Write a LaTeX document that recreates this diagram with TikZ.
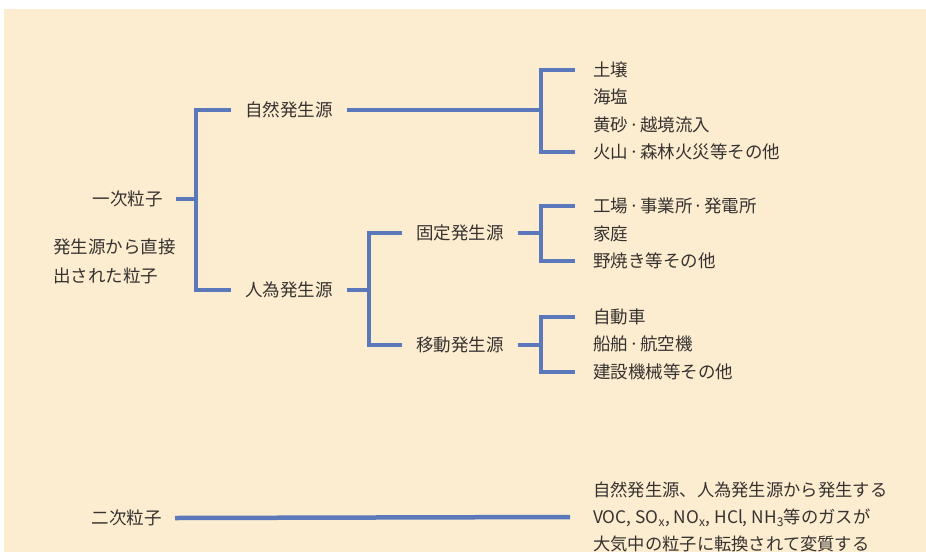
\documentclass[tikz,border=0pt]{standalone}
\usepackage{fontspec}
\setmainfont{Noto Sans CJK JP}
\definecolor{bgbeige}{HTML}{FDEDD0}
\definecolor{lineblue}{HTML}{5A78BA}
\definecolor{txtgray}{HTML}{363230}
\newcommand{\mdot}{\kern1pt·\kern1pt}
\begin{document}
\begin{tikzpicture}[x=1pt,y=-1pt,
  conn/.style={draw=lineblue,line width=4.5pt,line join=miter,line cap=butt},
  lbl/.style={text=txtgray,font=\fontsize{17.5}{20}\selectfont,inner ysep=1pt},
  midlbl/.style={lbl,anchor=west,inner xsep=14pt},
  leaf/.style={lbl,anchor=west,inner xsep=18pt},
  rootlbl/.style={lbl,anchor=east,inner xsep=13pt}]
\useasboundingbox (0,0) rectangle (926,552);
\clip (0,0) rectangle (926,552);
\fill[bgbeige] (4,9) rectangle (926,552);

% roots
\node[rootlbl] (ichiji) at (176,199) {一次粒子};
\node[lbl,anchor=west,inner sep=0pt,align=left,font=\fontsize{17.5}{29}\selectfont] (desc) at (53,261) {発生源から直接\\出された粒子};
\node[rootlbl] (niji) at (175,518) {二次粒子};

% level 2
\node[midlbl] (shizen) at (231,110) {自然発生源};
\node[midlbl] (jini) at (231,290) {人為発生源};

% level 3
\node[midlbl] (kotei) at (402,233) {固定発生源};
\node[midlbl] (ido) at (402,345) {移動発生源};

% leaves
\node[leaf] (s1) at (575,70) {土壌};
\node[leaf] (s2) at (575,97) {海塩};
\node[leaf] (s3) at (575,125) {黄砂\mdot 越境流入};
\node[leaf] (s4) at (575,152) {火山\mdot 森林火災等その他};
\node[leaf] (k1) at (575,206) {工場\mdot 事業所\mdot 発電所};
\node[leaf] (k2) at (575,234) {家庭};
\node[leaf] (k3) at (575,261) {野焼き等その他};
\node[leaf] (m1) at (575,317) {自動車};
\node[leaf] (m2) at (575,344) {船舶\mdot 航空機};
\node[leaf] (m3) at (575,372) {建設機械等その他};

\node[lbl,anchor=west,inner xsep=23pt,inner ysep=0pt,align=left,font=\fontsize{17.3}{27}\selectfont] (nijidesc) at (570,517)
 {自然発生源、人為発生源から発生する\\VOC, SO\textsubscript{x}, NO\textsubscript{x}, HCl, NH\textsubscript{3}等のガスが\\大気中の粒子に転換されて変質する};

% junctions
\coordinate (j1) at (196,199);
\coordinate (j2) at (541,110);
\coordinate (j3) at (369,290);
\coordinate (j4) at (541,233);
\coordinate (j5) at (541,345);

% connectors
\draw[conn] (ichiji.east) -- (j1);
\draw[conn] (shizen.west) -| (j1) |- (jini.west);
\draw[conn] (shizen.east) -- (j2);
\draw[conn] (s1.west) -| (j2) |- (s4.west);
\draw[conn] (jini.east) -- (j3);
\draw[conn] (kotei.west) -| (j3) |- (ido.west);
\draw[conn] (kotei.east) -- (j4);
\draw[conn] (k1.west) -| (j4) |- (k3.west);
\draw[conn] (ido.east) -- (j5);
\draw[conn] (m1.west) -| (j5) |- (m3.west);
\draw[conn] (niji.east) -- (nijidesc.west);
\end{tikzpicture}
\end{document}
